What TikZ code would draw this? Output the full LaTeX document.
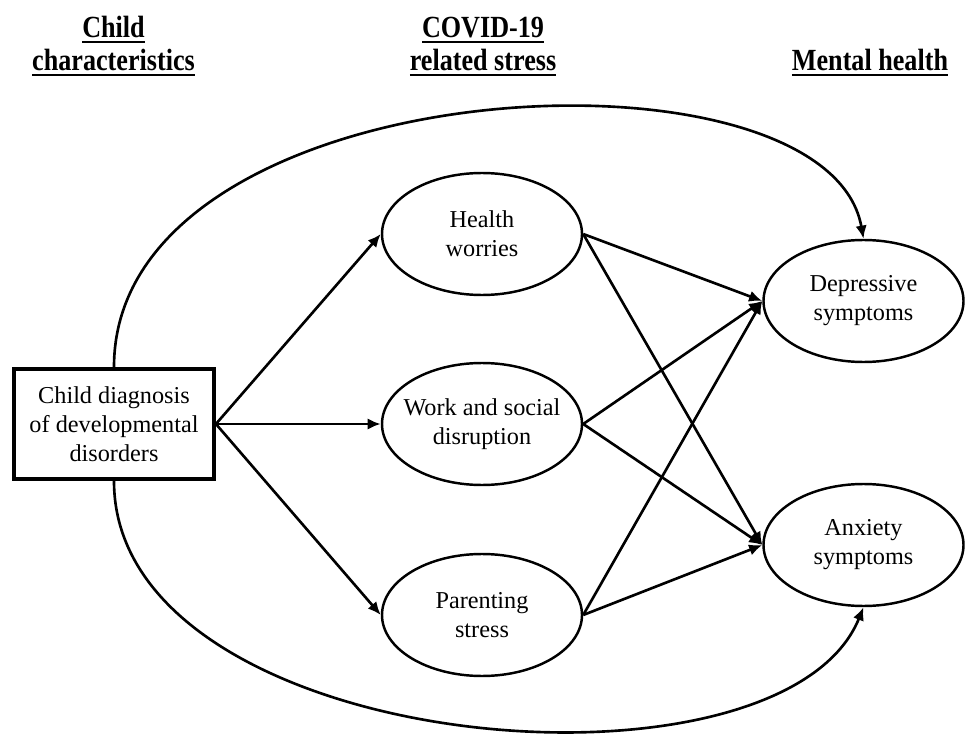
\documentclass[tikz,border=0pt]{standalone}
\usepackage{fontspec}
\setmainfont{Liberation Serif}
\newfontfamily\headfont[FakeStretch=0.85]{Liberation Serif}
\usetikzlibrary{shapes.geometric,arrows.meta}
\newcommand{\hdul}[1]{\setbox0=\hbox{#1}\rlap{\rule[-3pt]{\wd0}{1pt}}\box0}
\begin{document}
\begin{tikzpicture}[
		>={Latex[length=7.5pt,width=6.5pt]},
		path/.style={line width=1.5pt},
		factor/.style={draw, ellipse, line width=1.4pt, minimum width=4cm, minimum height=2.44cm, inner xsep=-0.2cm, inner ysep=0pt, align=center, font=\fontsize{13.8}{16.6}\selectfont},
		source/.style={draw, rectangle, line width=2.2pt, minimum width=4cm, minimum height=2.2cm, inner sep=0pt, align=center, font=\fontsize{13.8}{16.6}\selectfont},
		heading/.style={anchor=south, inner sep=0pt, align=center, font=\headfont\bfseries\fontsize{17.5}{18.8}\selectfont}
	]
			\useasboundingbox (0,0) rectangle (19.36,14.68);
			\node	(h1) at (2.27,13.16) [heading] {\hdul{Child}\\\hdul{characteristics}};
			\node	(h2) at (9.66,13.16) [heading] {\hdul{COVID-19}\\\hdul{related stress}};
			\node	(h3) at (17.4,13.16) [heading] {\hdul{Mental health}};
			\node	(child) at (2.28,6.2) [source] {Child diagnosis\\of developmental\\disorders};
			\node	(health) at (9.64,10.0) [factor] {Health\\worries};
			\node	(work) at (9.64,6.2) [factor] {Work and social\\disruption};
			\node	(parent) at (9.64,2.38) [factor] {Parenting\\stress};
			\node	(depr) at (17.27,8.66) [factor] {Depressive\\symptoms};
			\node	(anx) at (17.27,3.78) [factor] {Anxiety\\symptoms};
			\draw[path]
			(child.east) edge[->] (health.west)
			(child.east) edge[->] (work.west)
			(child.east) edge[->] (parent.west)
			(health.east) edge[->] (depr.west)
			(health.east) edge[->] (anx.west)
			(work.east) edge[->] (depr.west)
			(work.east) edge[->] (anx.west)
			(parent.east) edge[->] (depr.west)
			(parent.east) edge[->] (anx.west)
			(child.north) edge[->, out=90, in=100, out distance=6cm, in distance=4.2cm] (depr.north)
			(child.south) edge[->, out=-90, in=-112, out distance=5.5cm, in distance=4.4cm] (anx.south)
			
			;
		\end{tikzpicture}
\end{document}
